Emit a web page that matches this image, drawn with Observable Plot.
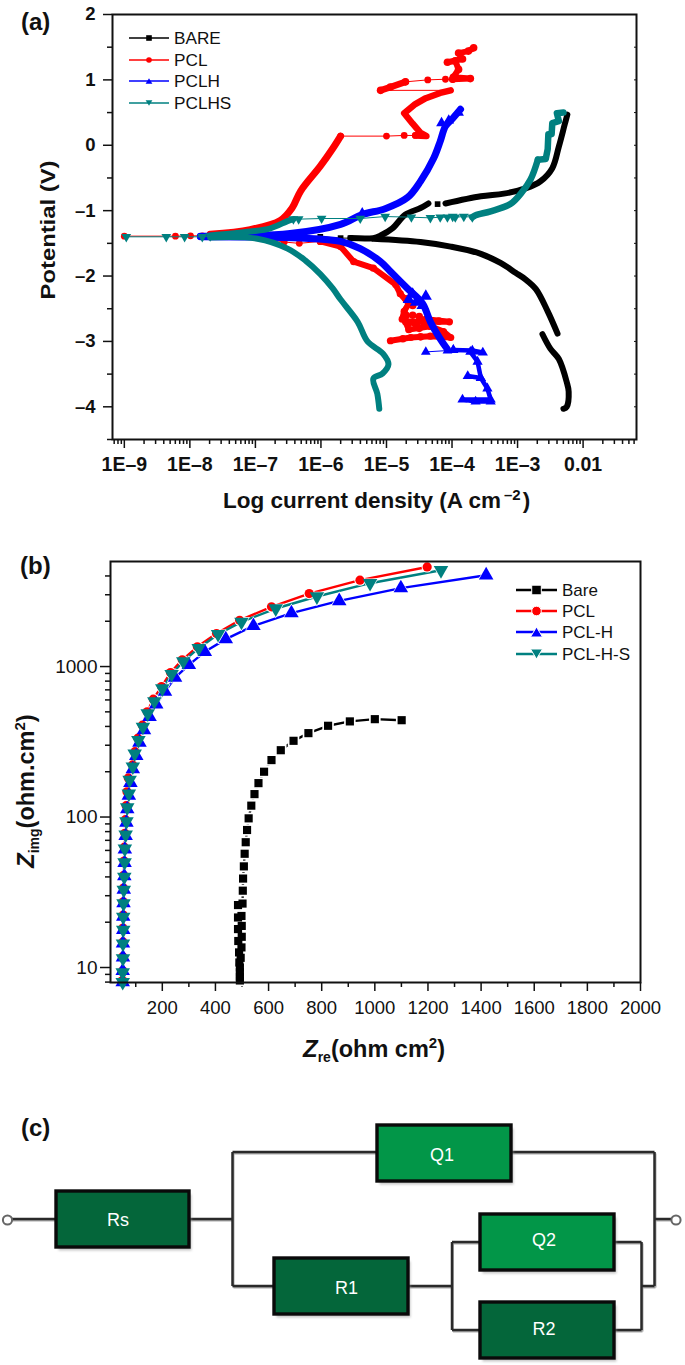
<!DOCTYPE html>
<html><head><meta charset="utf-8">
<script src="https://cdn.jsdelivr.net/npm/d3@7"></script>
<script src="https://cdn.jsdelivr.net/npm/@observablehq/plot@0.6"></script>
<style>
html,body{margin:0;padding:0;background:#fff}
#page{position:relative;width:685px;height:1365px;overflow:hidden;font-family:"Liberation Sans",Arial,sans-serif;color:#111}
#overlay{top:0;pointer-events:none}
</style></head><body>
<div id="page"></div>
<script>
// ---------- Panel (a): [log10 current density, potential V] ----------
const bareSparse=[[-6.01,-1.40],[-5.70,-1.42],[-5.55,-1.42]];
const bareAnodicA=[[-5.55,-1.42],[-5.20,-1.42],[-5.09,-1.38],[-4.91,-1.27],[-4.71,-1.06],[-4.48,-0.96],[-4.36,-0.89]];
const bareIsolated=[[-4.22,-0.90]];
const bareAnodicB=[[-4.10,-0.89],[-3.56,-0.78],[-3.21,-0.74],[-2.88,-0.66],[-2.65,-0.55],[-2.47,-0.35],[-2.37,-0.02],[-2.28,0.32],[-2.24,0.47]];
const bareCathodicA=[[-5.20,-1.43],[-4.48,-1.48],[-4.02,-1.55],[-3.56,-1.66],[-3.26,-1.80],[-3.03,-1.95],[-2.88,-2.05],[-2.72,-2.20],[-2.54,-2.54],[-2.39,-2.88]];
const bareCathodicB=[[-2.62,-2.89],[-2.50,-3.11],[-2.37,-3.27],[-2.25,-3.62],[-2.22,-3.77],[-2.25,-4.00],[-2.30,-4.03]];

const pclSparse=[[-9,-1.39],[-8.22,-1.39],[-7.99,-1.385],[-7.81,-1.385],[-7.69,-1.38]];
const pclSparse2=[[-5.70,0.14],[-5.00,0.14],[-4.73,0.15],[-4.56,0.15]];
const pclSparse3=[[-4.02,0.84],[-5.09,0.84]];
const pclSparse4=[[-4.71,0.97],[-4.37,1.00],[-4.10,1.01],[-3.99,1.01]];
const pclSparse5=[[-7.69,-1.40],[-6.92,-1.42],[-6.56,-1.48],[-6.33,-1.50],[-6.01,-1.47]];
const pclAnodicA=[[-7.69,-1.36],[-7.08,-1.29],[-6.62,-1.15],[-6.44,-0.96],[-6.31,-0.70],[-6.01,-0.32],[-5.82,-0.05],[-5.70,0.14]];
const pclAnodicB=[[-4.56,0.15],[-4.39,0.14],[-4.48,0.19],[-4.60,0.33],[-4.73,0.49],[-4.56,0.63],[-4.40,0.72],[-4.18,0.80],[-4.02,0.84]];
const pclAnodicC=[[-5.09,0.84],[-4.94,0.89],[-4.71,0.97]];
const pclAnodicD=[[-3.99,1.01],[-3.72,1.02],[-3.98,1.04],[-3.90,1.16],[-3.95,1.29],[-4.07,1.27],[-3.84,1.32],[-3.90,1.41],[-3.75,1.44],[-3.67,1.49]];
const pclCathodic=[[-6.01,-1.47],[-5.70,-1.55],[-5.50,-1.78],[-5.20,-1.88],[-4.86,-2.13],[-4.79,-2.27],[-4.66,-2.42],[-4.73,-2.54],[-4.76,-2.66],[-4.56,-2.73],[-4.40,-2.66],[-4.04,-2.70],[-4.71,-2.70],[-4.66,-2.82],[-4.33,-2.77],[-4.13,-2.85],[-4.02,-2.94],[-4.33,-2.92],[-4.63,-2.94],[-4.94,-2.99]];
const pclBlob=[[-4.70,-2.35],[-4.60,-2.45],[-4.70,-2.60],[-4.60,-2.60],[-4.50,-2.62],[-4.66,-2.72],[-4.50,-2.80],[-4.20,-2.69],[-4.20,-2.87],[-4.48,-2.93],[-4.75,-2.96]];

const pclhAnodic=[[-7.84,-1.39],[-6.47,-1.35],[-5.70,-1.21],[-5.37,-1.06],[-5.02,-0.97],[-4.68,-0.80],[-4.48,-0.55],[-4.28,-0.20],[-4.18,0.06],[-4.10,0.29],[-3.99,0.41],[-3.87,0.55]];
const pclhSpikes=[[-5.37,-1.04],[-4.16,0.34],[-4.05,0.38],[-3.90,0.50]];
const pclhCathodic=[[-7.84,-1.40],[-6.31,-1.42],[-5.70,-1.47],[-5.40,-1.58],[-5.09,-1.78],[-4.94,-1.93],[-4.68,-2.19],[-4.45,-2.42],[-4.33,-2.70],[-4.18,-2.96],[-4.07,-3.12]];
const pclhBlob=[[-4.66,-2.36],[-4.40,-2.31],[-4.55,-2.40],[-4.60,-2.28],[-4.45,-2.45]];
const pclhSparse=[[-4.40,-3.16],[-4.07,-3.14],[-3.98,-3.13]];
const pclhTail=[[-3.98,-3.13],[-3.69,-3.14],[-3.53,-3.17],[-3.72,-3.16],[-3.61,-3.31],[-3.56,-3.56],[-3.76,-3.53],[-3.56,-3.56],[-3.46,-3.72],[-3.41,-3.89],[-3.84,-3.89],[-3.64,-3.92],[-3.41,-3.92]];

const pclhsSparse=[[-8.97,-1.40],[-8.36,-1.40],[-8.08,-1.40],[-7.81,-1.40],[-7.69,-1.39]];
const pclhsSparse2=[[-6.42,-1.13],[-6.34,-1.13],[-5.99,-1.12],[-5.40,-1.12],[-5.02,-1.09],[-4.62,-1.10],[-4.33,-1.11],[-4.18,-1.10],[-4.07,-1.10],[-3.99,-1.09],[-3.95,-1.10],[-3.82,-1.09],[-3.69,-1.10]];
const pclhsAnodicA=[[-7.69,-1.38],[-7.08,-1.32],[-6.77,-1.27],[-6.51,-1.16],[-6.42,-1.13]];
const pclhsAnodicB=[[-3.69,-1.10],[-3.64,-1.07],[-3.41,-1.01],[-3.11,-0.90],[-2.95,-0.74],[-2.80,-0.52],[-2.69,-0.22]];
const pclhsAnodicC=[[-2.69,-0.22],[-2.57,-0.21],[-2.54,-0.06],[-2.53,0.17],[-2.48,0.17],[-2.47,0.34],[-2.37,0.37],[-2.40,0.49],[-2.30,0.50]];
const pclhsCathodic=[[-7.69,-1.41],[-6.97,-1.43],[-6.51,-1.58],[-6.24,-1.76],[-6.01,-1.97],[-5.82,-2.19],[-5.70,-2.36],[-5.44,-2.70],[-5.29,-3.00],[-5.05,-3.19],[-4.97,-3.35],[-5.06,-3.49],[-5.20,-3.57],[-5.14,-3.80],[-5.11,-4.03]];

const aDecades=[1e-9,1e-8,1e-7,1e-6,1e-5,1e-4,1e-3,1e-2];
const aDecadeLabels=["1E–9","1E–8","1E–7","1E–6","1E–5","1E–4","1E–3","0.01"];
const aVoltTicks=[2,1,0,-1,-2,-3,-4];
const aVoltMinor=[1.5,0.5,-0.5,-1.5,-2.5,-3.5,-4.5];

// ---------- Panel (b): real and imaginary impedance ----------
const bareRe=[492,492,492,492,490,495,489,498,486,499,485,499,485,498,485,502,503,504,507,510,514,519,525,535,547,562,583,611,646,694,750,824,906,1000,1101];
const bareIm=[8.2,8.7,9.3,10,10.8,11.6,12.6,13.6,15,16,18,18.9,21.5,22,26,26.6,32.4,39,47,57,68,82,98,119,142,168,200,239,278,321,361,404,432,447,440];
const pclRe=[50,51,51,52,52,53,53,54,55,56,57,59,61,64,67,72,88,97,108,125,143,166,197,231,275,332,404,491,611,753,944,1197];
const pclIm=[8.2,9.5,11.8,14.8,18.3,22.3,27.3,33.7,41,51,63,78,96,119,147,182,222,272,334,408,500,607,736,912,1109,1353,1656,2030,2494,3055,3750,4590];
const pclhRe=[51,51,52,52,53,53,54,55,57,58,59,62,65,68,74,80,89,102,114,131,152,177,210,248,300,360,439,543,686,866,1098,1419];
const pclhIm=[8,9.5,11.7,14.5,17.8,21.8,26.8,33,40.5,49.6,61,75,92,113,139,169,208,255,313,379,463,562,682,845,1026,1253,1521,1862,2265,2729,3319,4046];
const pclhsRe=[51,51,52,52,53,53,54,55,57,58,59,62,65,68,74,77,89,96,110,127,145,170,200,235,279,337,410,498,627,782,982,1249];
const pclhsIm=[8,9.26,11.5,14.4,17.8,21.7,26.6,32.8,40,49.9,61.5,76.2,93.3,115.6,142.7,176.6,216,264,324,397,487,586,714,891,1081,1324,1640,1982,2430,2920,3580,4365];

const bXMajor=[200,400,600,800,1000,1200,1400,1600,1800,2000];
const bXMinor=[100,300,500,700,900,1100,1300,1500,1700,1900];
const bYMajor=[10,100,1000];
const bYMinor=[8,9,20,30,40,50,60,70,80,90,200,300,400,500,600,700,800,900,2000,3000,4000];

// ---------- Colours and symbols ----------
const BLACK="#000000",RED="#ff0000",BLUE="#0000ff",TEAL="#008080";
const downTriangle={draw(c,size){const s=Math.sqrt(size/(Math.sqrt(3)/4));const h=s*Math.sqrt(3)/2;c.moveTo(-s/2,-h/3);c.lineTo(s/2,-h/3);c.lineTo(0,2*h/3);c.closePath();}};
const pageEl=document.getElementById("page");

// ---------- Panel (a) drawing ----------
const X=d=>10**d[0],Y=d=>d[1];
const dense=(pts,color,w)=>Plot.line(pts,{x:X,y:Y,stroke:color,strokeWidth:w,strokeLinecap:"round",strokeLinejoin:"round"});
const smooth=(pts,color,w)=>Plot.line(pts,{x:X,y:Y,stroke:color,strokeWidth:w,strokeLinecap:"round",strokeLinejoin:"round",curve:"catmull-rom"});
const thin=(pts,color)=>Plot.line(pts,{x:X,y:Y,stroke:color,strokeWidth:1});
const dots=(pts,color,symbol,r)=>Plot.dot(pts,{x:X,y:Y,fill:color,stroke:null,symbol,r});
const minorX=[1e-10].concat(aDecades).flatMap(d=>[2,3,4,5,6,7,8,9].map(k=>k*d)).filter(v=>v>6.6e-10&&v<0.0653);

const plotA=Plot.plot({
  width:685,height:480,marginLeft:112,marginRight:49,marginTop:14,marginBottom:41,
  style:{fontFamily:"'Liberation Sans',Arial,sans-serif",color:"#111",overflow:"visible"},
  x:{type:"log",domain:[6.6e-10,0.0653]},
  y:{domain:[-4.5,2]},
  marks:[
    Plot.axisX({ticks:minorX,tickSize:5,text:null,label:null,strokeWidth:1.5}),
    Plot.axisX({ticks:aDecades,tickSize:9,tickPadding:9,label:null,strokeWidth:1.5,fontSize:19.5,fontWeight:"bold",
      tickFormat:d=>aDecadeLabels[aDecades.indexOf(d)]}),
    Plot.axisY({ticks:aVoltMinor,tickSize:5,text:null,label:null,strokeWidth:1.5}),
    Plot.axisY({ticks:aVoltTicks,tickSize:9,tickPadding:8,label:null,strokeWidth:1.5,fontSize:18.5,fontWeight:"bold",
      tickFormat:d=>String(d).replace("-","–")}),
    Plot.axisY({anchor:"right",ticks:aVoltTicks.concat(aVoltMinor),tickSize:-3,text:null,label:null,strokeWidth:1}),
    // BARE
    thin(bareSparse,BLACK),dots(bareSparse,BLACK,"square",3.2),dots(bareIsolated,BLACK,"square",3.2),
    smooth(bareAnodicA,BLACK,6),smooth(bareAnodicB,BLACK,6),smooth(bareCathodicA,BLACK,6),smooth(bareCathodicB,BLACK,6),
    // PCL
    thin(pclSparse,RED),dots(pclSparse,RED,"circle",3.4),thin(pclSparse5,RED),dots(pclSparse5,RED,"circle",3.4),
    thin(pclSparse2,RED),dots(pclSparse2,RED,"circle",3.4),thin(pclSparse3,RED),thin(pclSparse4,RED),dots(pclSparse4,RED,"circle",3.4),
    smooth(pclAnodicA,RED,7),dense(pclAnodicB,RED,6.5),dense(pclAnodicC,RED,6.5),dense(pclAnodicD,RED,6),
    dots(pclAnodicD,RED,"circle",3.8),dots(pclAnodicC,RED,"circle",3.8),
    dense(pclCathodic,RED,6),dots(pclCathodic,RED,"circle",3.6),dots(pclBlob,RED,"circle",3.8),
    // PCLH
    smooth(pclhAnodic,BLUE,7),dots(pclhSpikes,BLUE,"triangle",4),smooth(pclhCathodic,BLUE,7),dots(pclhBlob,BLUE,"triangle",4.5),
    thin(pclhSparse,BLUE),dots(pclhSparse,BLUE,"triangle",3.6),
    dense(pclhTail,BLUE,4.5),dots(pclhTail,BLUE,"triangle",3.8),
    // PCLHS
    thin(pclhsSparse,TEAL),dots(pclhsSparse,TEAL,downTriangle,3.6),
    smooth(pclhsAnodicA,TEAL,6),thin(pclhsSparse2,TEAL),dots(pclhsSparse2,TEAL,downTriangle,3.6),
    smooth(pclhsAnodicB,TEAL,6.5),dense(pclhsAnodicC,TEAL,6.5),smooth(pclhsCathodic,TEAL,6),
    Plot.frame({stroke:"#111",strokeWidth:2})
  ]
});
plotA.style.top="0px";plotA.style.left="0px";plotA.style.position="absolute";pageEl.append(plotA);

// ---------- Panel (b) drawing ----------
const pair=(re,im)=>re.map((v,i)=>({re:v,im:im[i]}));
const seriesDefs=[[bareRe,bareIm,BLACK,"square",4.6,6.5],[pclRe,pclIm,RED,"circle",4.6,5.6],[pclhRe,pclhIm,BLUE,"triangle",5.4,6.2],[pclhsRe,pclhsIm,TEAL,downTriangle,5.4,6.2]];
const plotB=Plot.plot({
  width:685,height:500,marginLeft:110,marginRight:45,marginTop:21,marginBottom:58,
  style:{fontFamily:"'Liberation Sans',Arial,sans-serif",color:"#111",overflow:"visible"},
  x:{domain:[5,2000]},
  y:{type:"log",domain:[7.95,4990]},
  marks:[
    Plot.axisX({ticks:bXMinor,tickSize:5,text:null,label:null,strokeWidth:1.5}),
    Plot.axisX({ticks:bXMajor,tickSize:9,tickPadding:9,label:null,strokeWidth:1.5,fontSize:18.5,tickFormat:d=>String(d)}),
    Plot.axisY({ticks:bYMinor,tickSize:5,text:null,label:null,strokeWidth:1.5}),
    Plot.axisY({ticks:bYMajor,tickSize:10,tickPadding:3,label:null,strokeWidth:1.5,fontSize:19,tickFormat:d=>String(d)}),
    seriesDefs.map(([re,im,c])=>Plot.line(pair(re,im),{x:"re",y:"im",stroke:c,strokeWidth:2.4})),
    seriesDefs.map(([re,im,c,s,r,h])=>Plot.dot(pair(re,im),{x:"re",y:"im",fill:"#fff",stroke:null,symbol:s,r:h})),
    seriesDefs.map(([re,im,c,s,r])=>Plot.dot(pair(re,im),{x:"re",y:"im",fill:c,stroke:null,symbol:s,r})),
    Plot.frame({stroke:"#111",strokeWidth:2})
  ]
});
plotB.style.top="540px";plotB.style.left="0px";plotB.style.position="absolute";pageEl.append(plotB);

// ---------- Overlay: panel letters, axis titles, legends, circuit ----------
const legendA=[["BARE",BLACK,"square"],["PCL",RED,"circle"],["PCLH",BLUE,"up"],["PCLHS",TEAL,"down"]];
const legendB=[["Bare",BLACK,"square"],["PCL",RED,"circle"],["PCL-H",BLUE,"up"],["PCL-H-S",TEAL,"down"]];
const legendYA=[38,60,81,103],legendYB=[590,611,632,654];
const marker=(kind,cx,cy,s,color)=>{
  if(kind==="square")return `<rect x="${cx-s}" y="${cy-s}" width="${2*s}" height="${2*s}" fill="${color}"/>`;
  if(kind==="circle")return `<circle cx="${cx}" cy="${cy}" r="${s}" fill="${color}"/>`;
  if(kind==="up")return `<path d="M${cx-s*1.2},${cy+s} L${cx+s*1.2},${cy+s} L${cx},${cy-s} Z" fill="${color}"/>`;
  return `<path d="M${cx-s*1.2},${cy-s} L${cx+s*1.2},${cy-s} L${cx},${cy+s} Z" fill="${color}"/>`;
};
let o="";
legendA.forEach(([t,c,k],i)=>{const y=legendYA[i];
  o+=`<line x1="129" x2="169" y1="${y}" y2="${y}" stroke="${c}" stroke-width="1.6"/>`+marker(k,149,y,2.8,c)+
     `<text x="174" y="${y}" dy="0.35em" font-size="17.2" fill="#111">${t}</text>`;});
legendB.forEach(([t,c,k],i)=>{const y=legendYB[i];
  o+=`<line x1="516" x2="557" y1="${y}" y2="${y}" stroke="${c}" stroke-width="2.4"/>`+`<g stroke="#fff" stroke-width="1">`+marker(k,536.5,y,k==="square"||k==="circle"?4.8:5,c).replace("/>",' stroke="#fff"/>')+`</g>`+
     `<text x="562" y="${y}" dy="0.35em" font-size="17" fill="#111">${t}</text>`;});
[["(a)",21,22],["(b)",20,566],["(c)",21,1128]].forEach(([t,x,y])=>{o+=`<text x="${x}" y="${y}" dy="0.35em" font-size="24" font-weight="bold" fill="#111">${t}</text>`;});
o+=`<text transform="translate(55,230) rotate(-90)" text-anchor="middle" font-size="21" font-weight="bold" fill="#111" textLength="139" lengthAdjust="spacingAndGlyphs">Potential (V)</text>`;
o+=`<text x="223" y="508" font-size="22.5" font-weight="bold" fill="#111">Log current density (A cm<tspan dy="-8" dx="3" font-size="15">–2</tspan><tspan dy="8" dx="2">)</tspan></text>`;
o+=`<text transform="translate(34,868) rotate(-90)" font-size="23.5" font-weight="bold" fill="#111"><tspan font-style="italic" font-size="24">Z</tspan><tspan font-size="14" dy="5">img</tspan><tspan dy="-5">(ohm.cm</tspan><tspan font-size="15" dy="-9">2</tspan><tspan dy="9">)</tspan></text>`;
o+=`<text x="303" y="1057" font-size="23.5" font-weight="bold" fill="#111"><tspan font-style="italic" font-size="24">Z</tspan><tspan font-size="14" dy="5">re</tspan><tspan dy="-5">(ohm cm</tspan><tspan font-size="15" dy="-9">2</tspan><tspan dy="9">)</tspan></text>`;
const wires=[[7,1219,55,1219],[189,1219,232.5,1219],[232.5,1152,232.5,1286],[232.5,1152,377,1152],[511,1152,654.5,1152],[654.5,1152,654.5,1286],
 [232.5,1286,274,1286],[408,1286,452,1286],[452,1242,452,1330],[452,1242,480,1242],[452,1330,480,1330],[614,1242,641.5,1242],[614,1330,641.5,1330],[641.5,1242,641.5,1330],[641.5,1286,654.5,1286],[654.5,1219,676,1219]];
const boxes=[["Rs",56,1191,133,56,"#04663a",118,1220],["Q1",377,1125,134,56,"#029648",442,1155],["R1",274,1258,134,56,"#04663a",346.5,1288],["Q2",480,1214,134,56,"#029648",544,1240],["R2",480,1302,134,56,"#04663a",544,1329]];
wires.forEach(([a,b,c,d])=>{o+=`<line x1="${a+1}" y1="${b+1.5}" x2="${c+1}" y2="${d+1.5}" stroke="#aaa" stroke-width="2"/>`;});
wires.forEach(([a,b,c,d])=>{o+=`<line x1="${a}" y1="${b}" x2="${c}" y2="${d}" stroke="#2a2a2a" stroke-width="2.5"/>`;});
boxes.forEach(([t,x,y,w,h,f,tx,ty])=>{
  o+=`<rect x="${x+2.5}" y="${y+3.5}" width="${w}" height="${h}" fill="#999" opacity="0.55" filter="url(#blur)"/>`;
  o+=`<rect x="${x}" y="${y}" width="${w}" height="${h}" fill="${f}" stroke="#0a0a0a" stroke-width="3.4"/>`;
  o+=`<text x="${tx}" y="${ty}" dy="0.35em" text-anchor="middle" font-size="18" fill="#fff">${t}</text>`;});
[[7.5,1220],[676,1220]].forEach(([x,y])=>{o+=`<circle cx="${x}" cy="${y}" r="4.6" fill="#fff" stroke="#666" stroke-width="2"/>`;});
const ov=document.createElementNS("http://www.w3.org/2000/svg","svg");
ov.id="overlay";ov.setAttribute("width",685);ov.setAttribute("height",1365);
ov.style.position="absolute";ov.style.top="0";ov.style.left="0";ov.style.fontFamily="'Liberation Sans',Arial,sans-serif";
ov.innerHTML=`<defs><filter id="blur"><feGaussianBlur stdDeviation="1"/></filter></defs>`+o;
pageEl.append(ov);
</script>
</body></html>
